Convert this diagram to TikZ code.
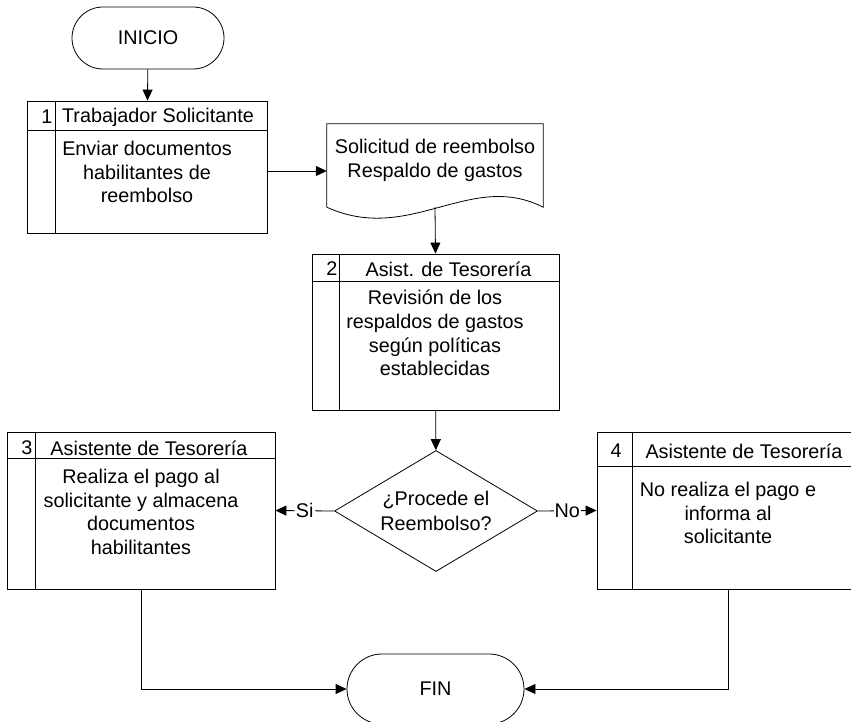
\documentclass[tikz,border=0pt]{standalone}
\usepackage{fontspec}
\setmainfont{Liberation Sans}
\usetikzlibrary{arrows.meta,positioning,shapes.geometric}
\tikzset{
  paso/.style={draw,line width=0.8pt,inner sep=0pt},
  texto/.style={align=center,inner sep=0pt},
  terminal/.style={draw,line width=0.8pt,inner sep=0pt},
  decision/.style={draw,diamond,line width=0.8pt,inner sep=0pt,aspect=1.68,align=center},
  flecha/.style={-{Triangle[length=11pt,width=10pt]},line width=0.8pt},
  linea/.style={line width=0.8pt},
  etiqueta/.style={fill=white,inner sep=1pt}
}

\begin{document}
\begin{tikzpicture}[x=1pt,y=-1pt,font=\fontsize{19.8}{23.8}\selectfont]
\useasboundingbox (0,0) rectangle (851,722);
% inicio y fin
\node[terminal,rounded corners=31pt,minimum width=152pt,minimum height=62pt](inicio) at (148,38){INICIO};
\node[terminal,rounded corners=35pt,minimum width=177pt,minimum height=70pt](fin) at (435.5,689){FIN};
% pasos
\node[paso,minimum width=240pt,minimum height=132pt](paso1) at (147,167){};
\node[paso,minimum width=247pt,minimum height=156pt](paso2) at (435.5,332){};
\node[paso,minimum width=268pt,minimum height=157pt](paso3) at (141,510.5){};
\node[paso,minimum width=262pt,minimum height=157pt](paso4) at (728,510.5){};
\foreach \p/\h/\c in {paso1/30/29,paso2/28/28,paso3/27/29,paso4/35/36}{
  \draw[linea] ([yshift=-\h pt]\p.north west) -- ([yshift=-\h pt]\p.north east);
  \draw[linea] ([xshift=\c pt]\p.north west) -- ([xshift=\c pt]\p.south west);
}
\node[texto](n1) at (47,117){1};
\node[texto](h1) at (158,117){Trabajador Solicitante};
\node[texto](t1) at (147,172){Enviar documentos\\habilitantes de\\reembolso};
\node[texto](n2) at (332,269){2};
\node[texto](h2) at (448.5,269){Asist. de Tesorería};
\node[texto](t2) at (435,333){Revisión de los\\respaldos de gastos\\según políticas\\establecidas};
\node[texto](n3) at (27,448){3};
\node[texto](h3) at (149,448){Asistente de Tesorería};
\node[texto](t3) at (141,512){Realiza el pago al\\solicitante y almacena\\documentos\\habilitantes};
\node[texto](n4) at (616,451){4};
\node[texto](h4) at (744,451){Asistente de Tesorería};
\node[texto](t4) at (728,513){No realiza el pago e\\informa al\\solicitante};
% documento
\node[inner sep=0pt,minimum width=216pt,minimum height=83pt](doc) at (435,165.5){};
\draw[linea] (doc.south west) -- (doc.north west) -- (doc.north east) -- (doc.south east)
  .. controls (470,170) and (410,245) .. (doc.south west);
\node[texto](tdoc) at (435,160){Solicitud de reembolso\\Respaldo de gastos};
% decision
\node[decision,minimum width=203pt,minimum height=121pt](dec) at (436,511){¿Procede el\\[2pt]Reembolso?};
% conectores
\draw[flecha] (inicio) -- (paso1);
\draw[flecha] ([yshift=-4pt]paso1.east) -- ([yshift=-4pt]paso1.east -| doc.west);
\draw[flecha] (doc.south) -- (paso2.north);
\draw[flecha] (paso2) -- (dec);
\draw[flecha] (dec.west) -- node[etiqueta]{Si} (paso3.east);
\draw[flecha] (dec.east) -- node[etiqueta]{No} (paso4.west);
\draw[flecha] (paso3.south) |- (fin.west);
\draw[flecha] (paso4.south) |- (fin.east);
\end{tikzpicture}
\end{document}
